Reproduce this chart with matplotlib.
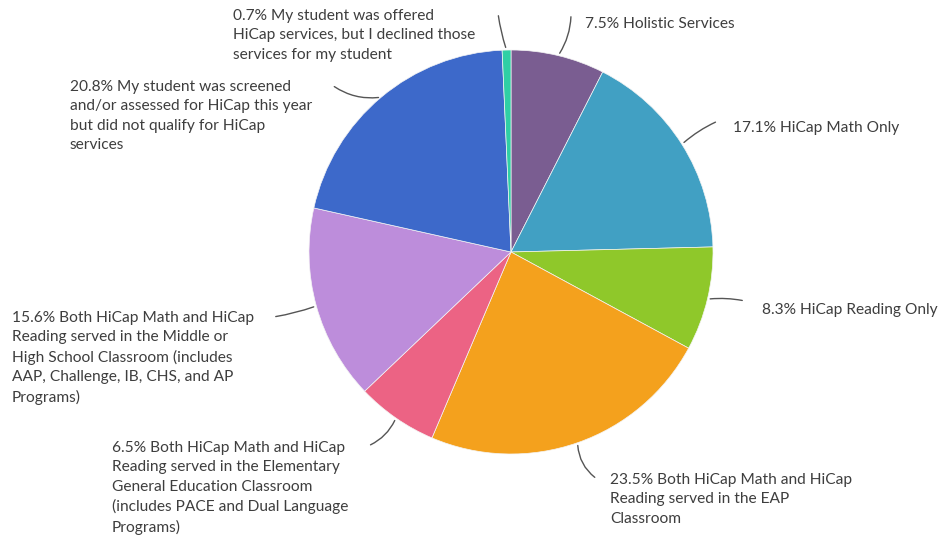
import numpy as np
import matplotlib
matplotlib.use("Agg")
import matplotlib.pyplot as plt

labels = [
    "7.5% Holistic Services",
    "17.1% HiCap Math Only",
    "8.3% HiCap Reading Only",
    "23.5% Both HiCap Math and HiCap\nReading served in the EAP\nClassroom",
    "6.5% Both HiCap Math and HiCap\nReading served in the Elementary\nGeneral Education Classroom\n(includes PACE and Dual Language\nPrograms)",
    "15.6% Both HiCap Math and HiCap\nReading served in the Middle or\nHigh School Classroom (includes\nAAP, Challenge, IB, CHS, and AP\nPrograms)",
    "20.8% My student was screened\nand/or assessed for HiCap this year\nbut did not qualify for HiCap\nservices",
    "0.7% My student was offered\nHiCap services, but I declined those\nservices for my student",
]
values = [7.5, 17.1, 8.3, 23.5, 6.5, 15.6, 20.8, 0.7]
colors = ["#7a5d91", "#41a0c3", "#8fc82a", "#f4a11d", "#ec6384",
          "#bd8ddb", "#3d69ca", "#2fcfa5"]

# layout (pixel coords, y from top)
W, H = 945, 537
cx, cy, R = 511, 252, 202
text_pos = [(585, 17), (733, 121), (762, 303), (610, 473),
            (112, 441), (12, 311), (70, 80), (233, 9)]
leader_end = [(571, 14), (718, 121), (745, 301), (597, 479),
              (368, 446), (273, 317), (332, 85), (498, 13)]
rads = [-0.15, 0.08, 0.08, -0.25, 0.2, 0.05, 0.2, 0.05]

plt.rcParams['font.family'] = ['Lato', 'DejaVu Sans']
fig = plt.figure(figsize=(W / 100, H / 100), dpi=100)
ax = fig.add_axes([0, 0, 1, 1])

wedges, _ = ax.pie(values, colors=colors, startangle=90, counterclock=False,
                   center=(cx, H - cy), radius=R, frame=True,
                   wedgeprops=dict(edgecolor='#f4f4f4', linewidth=0.5))
ax.set_xlim(0, W)
ax.set_ylim(0, H)
ax.set_aspect('equal')
ax.axis('off')

for w, lab, (tx, ty), (lx, ly), rad in zip(wedges, labels, text_pos, leader_end, rads):
    ang = np.deg2rad((w.theta1 + w.theta2) / 2)
    px = cx + R * np.cos(ang)
    py = (H - cy) + R * np.sin(ang)
    ax.annotate("", xy=(px, py), xytext=(lx, H - ly),
                arrowprops=dict(arrowstyle='-', color='#555555', lw=1.0,
                                connectionstyle=f"arc3,rad={rad}"))
    ax.text(tx, H - ty, lab, ha='left', va='top', fontsize=11.2,
            color='#3e3e3e', linespacing=1.48)

fig.savefig("out.png", dpi=100)
